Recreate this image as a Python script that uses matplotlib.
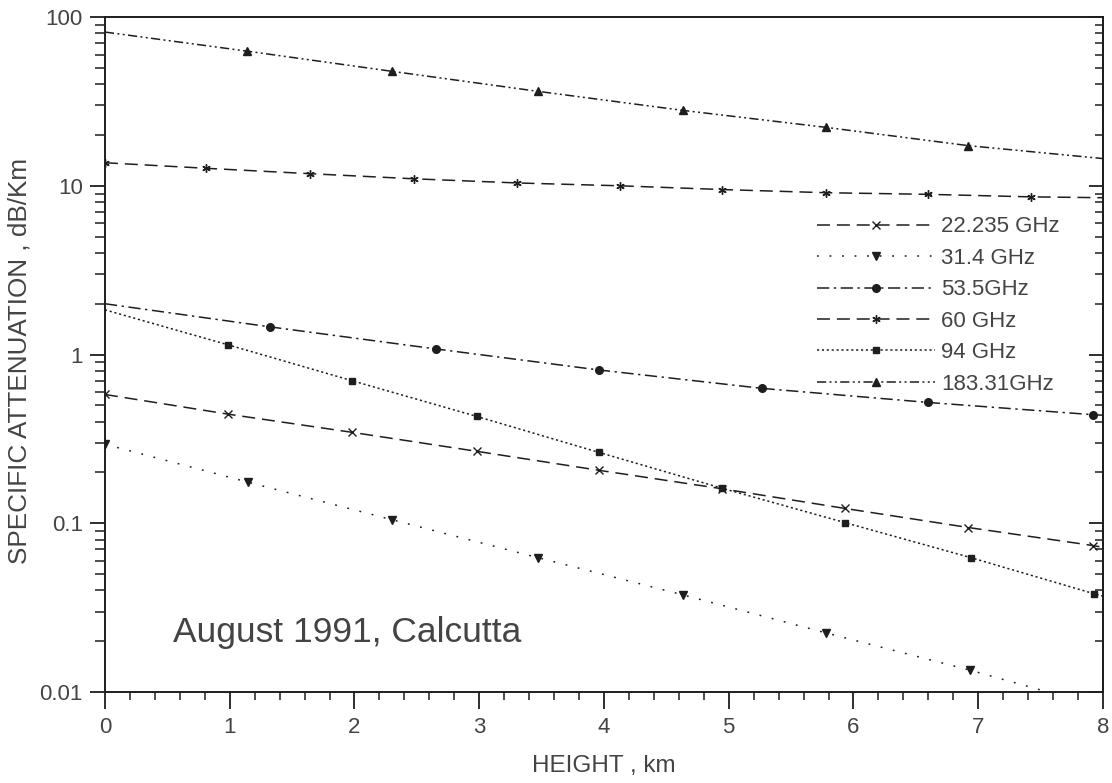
import numpy as np
import matplotlib
matplotlib.use("Agg")
from matplotlib import pyplot as plt
from matplotlib.lines import Line2D
from matplotlib.legend_handler import HandlerLine2D
from matplotlib.ticker import LogLocator, MultipleLocator, FixedFormatter, FixedLocator

plt.rcParams['font.family'] = ['Liberation Sans', 'DejaVu Sans']

# values (height in km, attenuation in dB/km)
h_22 = [0, 0.99, 1.98, 2.98, 3.96, 4.95, 5.93, 6.92, 7.92, 8.0]
a_22 = [0.58, 0.443, 0.346, 0.267, 0.206, 0.16, 0.1225, 0.0944, 0.0738, 0.072]

h_31 = [0, 1.15, 2.30, 3.47, 4.63, 5.78, 6.93, 8.0]
a_31 = [0.294, 0.175, 0.105, 0.0626, 0.0377, 0.0224, 0.0135, 0.0081]

h_53 = [0, 1.32, 2.65, 3.96, 5.27, 6.60, 7.92, 8.0]
a_53 = [2.0, 1.46, 1.08, 0.81, 0.63, 0.52, 0.44, 0.437]

h_60 = [0, 0.81, 1.64, 2.48, 3.30, 4.13, 4.95, 5.78, 6.60, 7.42, 8.0]
a_60 = [13.7, 12.7, 11.8, 11.0, 10.4, 10.0, 9.5, 9.1, 8.9, 8.6, 8.5]

h_94 = [0, 0.99, 1.98, 2.98, 3.96, 4.95, 5.93, 6.94, 7.93, 8.0]
a_94 = [1.84, 1.14, 0.70, 0.43, 0.263, 0.161, 0.101, 0.0626, 0.0382, 0.037]

h_183 = [0, 1.14, 2.30, 3.47, 4.63, 5.78, 6.92, 8.0]
a_183 = [81.5, 62.8, 47.7, 36.3, 28.0, 22.2, 17.3, 14.5]

labels = ['22.235 GHz', '31.4 GHz', '53.5GHz', '60 GHz', '94 GHz', '183.31GHz']

ink = '#1e1e1e'
txt = '#444444'


class TwoMarkHandler(HandlerLine2D):
    # legend sample: line across, two markers at 1/4 and 3/4
    def get_xdata(self, legend, xdescent, ydescent, width, height, fontsize):
        xdata = np.array([-xdescent, -xdescent + width])
        xmark = -xdescent + width * np.array([0.26, 0.75])
        return xdata, xmark


fig = plt.figure(figsize=(11.12, 7.83), dpi=100)
ax = fig.add_axes([0.0944, 0.1162, 0.8975, 0.862])

series = [
    (h_22, a_22, 'x', (0, (8.5, 4.5)), 6, list(range(len(h_22) - 1))),
    (h_31, a_31, 'v', (0, (1.2, 7)), 5.5, list(range(len(h_31) - 1))),
    (h_53, a_53, 'o', (0, (8, 3, 1.5, 3)), 5.5, list(range(1, len(h_53) - 1))),
    (h_60, a_60, (6, 2, 0), (0, (8.5, 4.5)), 6, list(range(len(h_60) - 1))),
    (h_94, a_94, 's', (0, (1.4, 1.8)), 5, list(range(1, len(h_94) - 1))),
    (h_183, a_183, '^', (0, (6, 2.2, 1.3, 2.2, 1.3, 2.2)), 5.5, list(range(1, len(h_183) - 1))),
]

handles = []
for (hx, ay, mk, ls, ms, every), lab in zip(series, labels):
    ln, = ax.plot(hx, ay, color=ink, linestyle=ls, linewidth=1.1,
                  marker=mk, markersize=ms, markevery=every,
                  markerfacecolor=ink, markeredgecolor=ink, markeredgewidth=1.0,
                  label=lab, clip_on=True)
    handles.append(ln)

ax.set_yscale('log')
ax.set_xlim(0, 8)
ax.set_ylim(0.01, 100)

ax.xaxis.set_major_locator(MultipleLocator(1))
ax.xaxis.set_minor_locator(MultipleLocator(0.2))
ax.yaxis.set_major_locator(FixedLocator([0.01, 0.1, 1, 10, 100]))
ax.yaxis.set_major_formatter(FixedFormatter(['0.01', '0.1', '1', '10', '100']))
ax.yaxis.set_minor_locator(LogLocator(base=10, subs=np.arange(2, 10)))

ax.tick_params(axis='x', which='both', direction='out', bottom=True, top=False,
               colors=ink, labelcolor=txt, labelsize=16, pad=6)
ax.tick_params(axis='x', which='major', length=12, width=1.3)
ax.tick_params(axis='x', which='minor', length=6, width=1.1)
ax.tick_params(axis='y', which='both', direction='out', left=True, right=False,
               colors=ink, labelcolor=txt, labelsize=16, pad=5)
ax.tick_params(axis='y', which='major', length=11, width=1.3)
ax.tick_params(axis='y', which='minor', length=7, width=1.1)

# right-hand spine carries inward ticks
sec = ax.secondary_yaxis('right')
sec.set_yscale('log')
sec.yaxis.set_major_locator(FixedLocator([0.01, 0.1, 1, 10, 100]))
sec.yaxis.set_minor_locator(LogLocator(base=10, subs=np.arange(2, 10)))
sec.tick_params(axis='y', which='both', direction='in', colors=ink, labelright=False)
sec.tick_params(axis='y', which='major', length=10, width=1.3)
sec.tick_params(axis='y', which='minor', length=6, width=1.1)
sec.spines['right'].set_color(ink)
sec.spines['right'].set_linewidth(1.4)

for s in ax.spines.values():
    s.set_color(ink)
    s.set_linewidth(1.4)

ax.set_xlabel('HEIGHT , km', fontsize=17.5, color=txt, labelpad=12)
ax.set_ylabel('SPECIFIC ATTENUATION , dB/Km', fontsize=18.8, color=txt,
              labelpad=6, y=0.49)

ax.text(0.068, 0.074, 'August 1991, Calcutta', fontsize=25.5, color=txt,
        ha='left', va='baseline', transform=ax.transAxes)

leg = fig.legend(handles=handles, labels=labels, loc='upper left',
                 bbox_to_anchor=(0.7347, 0.7235), frameon=False, fontsize=16,
                 handlelength=5.3, handletextpad=0.3, labelspacing=0.47,
                 borderpad=0, borderaxespad=0,
                 handler_map={Line2D: TwoMarkHandler()})
for t in leg.get_texts():
    t.set_color(txt)

fig.savefig('out.png', dpi=100)
